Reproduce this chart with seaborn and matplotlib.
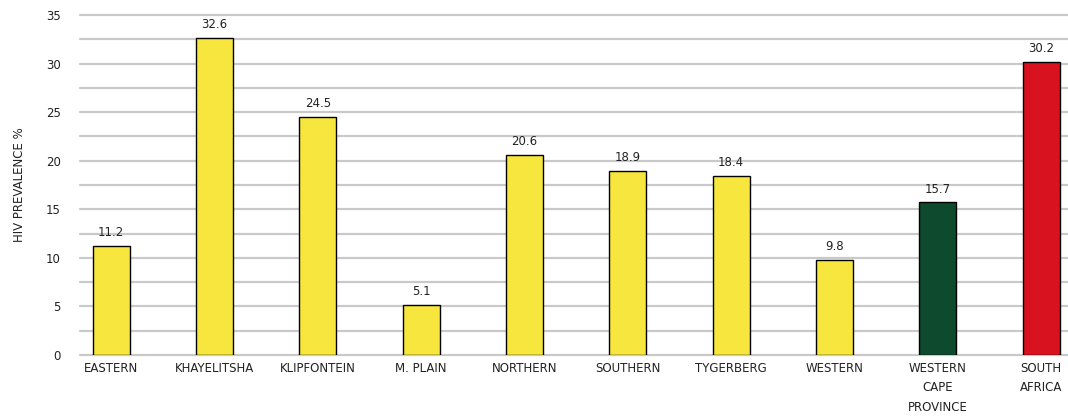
import matplotlib
matplotlib.use("Agg")
import matplotlib.pyplot as plt
import seaborn as sns
import pandas as pd
import numpy as np

categories = ["EASTERN", "KHAYELITSHA", "KLIPFONTEIN", "M. PLAIN", "NORTHERN",
              "SOUTHERN", "TYGERBERG", "WESTERN", "WESTERN\nCAPE\nPROVINCE", "SOUTH\nAFRICA"]
prevalence = [11.2, 32.6, 24.5, 5.1, 20.6, 18.9, 18.4, 9.8, 15.7, 30.2]
value_labels = ["11.2", "32.6", "24.5", "5.1", "20.6", "18.9", "18.4", "9.8", "15.7", "30.2"]
yticks = [0, 5, 10, 15, 20, 25, 30, 35]

yellow = "#F6E63E"
colors = [yellow] * 8 + ["#0E4A2E", "#D8121E"]

sns.set_theme(style="white")
plt.rcParams['font.family'] = ['DejaVu Sans']

df = pd.DataFrame({"cat": categories, "val": prevalence})

fig = plt.figure(figsize=(10.68, 4.2), dpi=100)
ax = fig.add_axes([0.075, 0.155, 0.925, 0.809])

for g in np.arange(0, 35.01, 2.5):
    ax.axhline(g, color="#C9C9C9", lw=1.6, zorder=0, clip_on=False)

sns.barplot(data=df, x="cat", y="val", hue="cat", palette=colors, legend=False,
            saturation=1, width=0.36, edgecolor="black", linewidth=1.0, ax=ax, zorder=2)

for i, (v, t) in enumerate(zip(prevalence, value_labels)):
    ax.annotate(t, (i, v), xytext=(0, 5), textcoords="offset points",
                ha="center", va="bottom", fontsize=8.5, color="#222222")

ax.set_ylim(0, 35)
ax.set_xlim(-0.3, 9.26)
ax.set_yticks(yticks)
ax.set_yticklabels([str(t) for t in yticks], fontsize=8.5, color="#222222")
ax.tick_params(axis="x", labelsize=8.5, colors="#222222", length=0, pad=5)
ax.tick_params(axis="y", length=0, pad=14)
for lbl in ax.get_xticklabels():
    lbl.set_linespacing(1.65)
ax.set_xlabel("")
ax.set_ylabel("HIV PREVALENCE %", fontsize=8.5, color="#222222", labelpad=14)
for s in ax.spines.values():
    s.set_visible(False)

fig.savefig("out.png", dpi=100)
